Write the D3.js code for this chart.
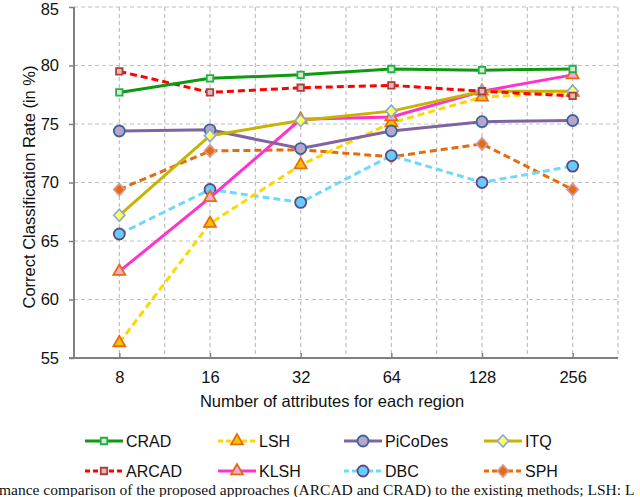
<!DOCTYPE html>
<html lang="en">
<head>
<meta charset="utf-8">
<title>Correct Classification Rate</title>
<script src="https://cdn.jsdelivr.net/npm/d3@7/dist/d3.min.js"></script>
<style>
  body { margin: 0; background: #fff; }
  svg { display: block; }
  text { font-family: "Liberation Sans", Arial, sans-serif; fill: #111; }
</style>
</head>
<body>
<div id="chart"></div>
<script>
// categories on the x axis
var attrs = ["8", "16", "32", "64", "128", "256"];
var yTicks = [55, 60, 65, 70, 75, 80, 85];

// series values (in %)
var crad    = [77.7, 78.9, 79.2, 79.7, 79.6, 79.7];
var arcad   = [79.5, 77.7, 78.1, 78.3, 77.8, 77.4];
var picodes = [74.4, 74.5, 72.9, 74.4, 75.2, 75.3];
var itq     = [67.2, 74.0, 75.3, 76.1, 77.8, 77.8];
var lsh     = [56.3, 66.5, 71.5, 75.1, 77.3, 77.7];
var klsh    = [62.4, 68.7, 75.4, 75.6, 77.8, 79.2];
var dbc     = [65.6, 69.4, 68.3, 72.3, 70.0, 71.4];
var sph     = [69.4, 72.7, 72.8, 72.2, 73.3, 69.4];

var series = [
    {name: "CRAD",    values: crad,    line: "#0e9a0e", fill: "#dce9c8", stroke: "#1fb050", shape: "square",   dash: null},
    {name: "LSH",     values: lsh,     line: "#ffd700", fill: "#ffc000", stroke: "#e46c0a", shape: "triangle", dash: "7,4"},
    {name: "PiCoDes", values: picodes, line: "#8064a2", fill: "#b7a5cc", stroke: "#3c6496", shape: "circle",   dash: null},
    {name: "ITQ",     values: itq,     line: "#c8b400", fill: "#ffff66", stroke: "#8eaad8", shape: "diamond",  dash: null},
    {name: "ARCAD",   values: arcad,   line: "#ff0000", fill: "#e6b9b8", stroke: "#a5403c", shape: "square",   dash: "7,4"},
    {name: "KLSH",    values: klsh,    line: "#ff33cc", fill: "#f7a8d8", stroke: "#e46c0a", shape: "triangle", dash: null},
    {name: "DBC",     values: dbc,     line: "#6fd8ff", fill: "#66ccff", stroke: "#604a7b", shape: "circle",   dash: "7,4"},
    {name: "SPH",     values: sph,     line: "#e46c0a", fill: "#e46c0a", stroke: "#d99694", shape: "diamond",  dash: "7,4"}
];

var width = 640, height = 497;
var margin = {top: 7, right: 22, bottom: 139, left: 74};
var plotW = width - margin.left - margin.right;
var plotH = height - margin.top - margin.bottom;
var fs = "16.5px";

var svg = d3.select("#chart").append("svg")
    .attr("width", width)
    .attr("height", height);

var g = svg.append("g")
    .attr("transform", "translate(" + margin.left + "," + margin.top + ")");

var x = d3.scalePoint().domain(attrs).range([0, plotW]).padding(0.5);
var y = d3.scaleLinear().domain([55, 85]).range([plotH, 0]);
var step = x.step();

// grid lines (vertical every half category, horizontal every 5)
var vgrid = [];
attrs.forEach(function(a) { vgrid.push(x(a)); vgrid.push(x(a) + step / 2); });
g.selectAll(".vgrid").data(vgrid).enter().append("line")
    .attr("x1", function(d) { return d; }).attr("x2", function(d) { return d; })
    .attr("y1", 0).attr("y2", plotH)
    .attr("stroke", "#c0c0c0").attr("stroke-width", 1.2).attr("stroke-dasharray", "4,3");
g.selectAll(".hgrid").data(yTicks.slice(1)).enter().append("line")
    .attr("x1", 0).attr("x2", plotW)
    .attr("y1", function(d) { return y(d); }).attr("y2", function(d) { return y(d); })
    .attr("stroke", "#c0c0c0").attr("stroke-width", 1.2).attr("stroke-dasharray", "4,3");

// axes
var yAxis = g.append("g")
    .call(d3.axisLeft(y).tickValues(yTicks).tickSize(5).tickPadding(10));
var xAxis = g.append("g")
    .attr("transform", "translate(0," + plotH + ")")
    .call(d3.axisBottom(x).tickSize(-5).tickPadding(13));
[xAxis, yAxis].forEach(function(ax) {
    ax.select(".domain").attr("stroke", "#808080").attr("stroke-width", 2);
    ax.selectAll(".tick line").attr("stroke", "#808080").attr("stroke-width", 1.5);
    ax.selectAll("text").style("font-size", fs).attr("fill", "#111")
        .style("font-family", "'Liberation Sans', Arial, sans-serif");
});
xAxis.select(".domain").attr("d", "M-5,0H" + plotW);
yAxis.select(".domain").attr("d", "M0,0V" + plotH);
// keep the top label inside the page
yAxis.selectAll(".tick text").filter(function(d) { return d === 85; }).attr("dy", "0.45em");

// axis titles
svg.append("text")
    .attr("transform", "translate(35,187) rotate(-90)")
    .attr("text-anchor", "middle")
    .style("font-size", fs)
    .text("Correct Classification Rate (in %)");
svg.append("text")
    .attr("x", 332)
    .attr("y", 407)
    .attr("text-anchor", "middle")
    .style("font-size", fs)
    .text("Number of attributes for each region");

function markerPath(shape) {
    if (shape === "square") return d3.symbol().type(d3.symbolSquare).size(42)();
    if (shape === "triangle") return d3.symbol().type(d3.symbolTriangle).size(62)();
    if (shape === "diamond") return "M0,-6L5.5,0L0,6L-5.5,0Z";
    return d3.symbol().type(d3.symbolCircle).size(95)();
}

var line = d3.line()
    .x(function(d, i) { return x(attrs[i]); })
    .y(function(d) { return y(d); });

var drawOrder = ["SPH", "DBC", "LSH", "KLSH", "PiCoDes", "ITQ", "ARCAD", "CRAD"];
drawOrder.forEach(function(n) {
    var s = series.find(function(d) { return d.name === n; });
    g.append("path")
        .datum(s.values)
        .attr("d", line)
        .attr("fill", "none")
        .attr("stroke", s.line)
        .attr("stroke-width", 3)
        .attr("stroke-dasharray", s.dash);
    g.selectAll(".m-" + n).data(s.values).enter().append("path")
        .attr("transform", function(d, i) {
            return "translate(" + x(attrs[i]) + "," + y(d) + ")";
        })
        .attr("d", markerPath(s.shape))
        .attr("fill", s.fill)
        .attr("stroke", s.stroke)
        .attr("stroke-width", 1.8);
});

// legend
var colX = [85, 218, 344, 484];
var rowY = [441, 471];
series.forEach(function(s, i) {
    var lx = colX[i % 4], ly = rowY[Math.floor(i / 4)];
    var lg = svg.append("g").attr("transform", "translate(" + lx + "," + ly + ")");
    lg.append("line")
        .attr("x1", 0).attr("x2", 38).attr("y1", 0).attr("y2", 0)
        .attr("stroke", s.line).attr("stroke-width", 3)
        .attr("stroke-dasharray", s.dash ? "5,3" : null);
    lg.append("path")
        .attr("transform", "translate(19,0)")
        .attr("d", markerPath(s.shape))
        .attr("fill", s.fill)
        .attr("stroke", s.stroke)
        .attr("stroke-width", 1.8);
    lg.append("text")
        .attr("x", 41)
        .attr("y", 6)
        .style("font-size", "16px")
        .text(s.name);
});

// caption (cut off in the reference)
svg.append("text")
    .attr("x", -1)
    .attr("y", 495)
    .style("font-family", "'Liberation Serif', 'Times New Roman', serif")
    .style("font-size", "15.5px")
    .text("mance comparison of the proposed approaches (ARCAD and CRAD) to the existing methods; LSH: L");
</script>
</body>
</html>
